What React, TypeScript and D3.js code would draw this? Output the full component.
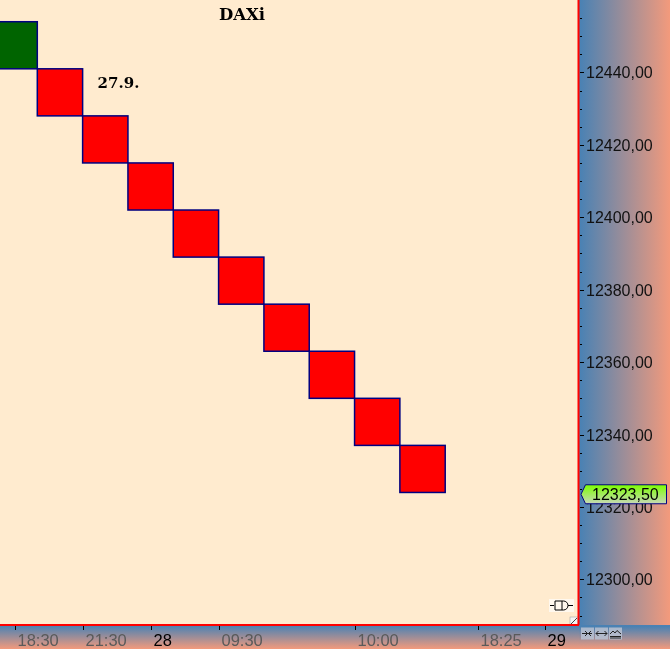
import React from "react";
import * as d3 from "d3";

// ---- data ----
const title = "DAXi";
const dateNote = "27.9.";
const boxSize = 13;
const boxHighs = [12454, 12441, 12428, 12415, 12402, 12389, 12376, 12363, 12350, 12337];
const boxDirections = ["up", "down", "down", "down", "down", "down", "down", "down", "down", "down"];
const lastPrice = 12323.5;
const priceTicks = d3.range(12290, 12460, 5);
const timeTickLabels = ["18:30", "21:30", "28", "09:30", "10:00", "18:25", "29"];
const timeTickColumns = [0.5, 2, 3.5, 5, 8, 10.73, 12.21];
const timeTickIsDay = [false, false, true, false, false, false, true];

const W = 670;
const H = 649;
const plotW = 578;
const plotH = 625;

const fmt = (v: number) => d3.format(".2f")(v).replace(".", ",");

export default function App() {
  const x = d3.scaleLinear().domain([0.177, 12.93]).range([0, plotW]);
  const y = d3.scaleLinear().domain([12287.4, 12460.0]).range([plotH, 0]);
  const colW = x(1) - x(0);
  const axisFont = "'Liberation Sans', Arial, sans-serif";
  const serif = "'DejaVu Serif', serif";
  const py = y(lastPrice);

  return (
    <div style={{ position: "fixed", left: 0, top: 0, width: W, height: H }}>
      <svg width={W} height={H} style={{ display: "block" }}>
        <defs>
          <linearGradient id="gRight" x1="0" y1="0" x2="1" y2="0">
            <stop offset="0" stopColor="#4681b5" />
            <stop offset="1" stopColor="#f39a7c" />
          </linearGradient>
          <linearGradient id="gBottom" x1="0" y1="0" x2="0" y2="1">
            <stop offset="0" stopColor="#4681b5" />
            <stop offset="1" stopColor="#f39a7c" />
          </linearGradient>
          <linearGradient id="gPrice" x1="0" y1="0" x2="0" y2="1">
            <stop offset="0" stopColor="#7cff00" />
            <stop offset="1" stopColor="#c8d8b8" />
          </linearGradient>
          <clipPath id="plotClip">
            <rect x={0} y={0} width={plotW} height={plotH} />
          </clipPath>
        </defs>

        {/* plot background */}
        <rect x={0} y={0} width={plotW} height={plotH} fill="#ffebcf" />

        {/* renko boxes */}
        <g clipPath="url(#plotClip)">
          {boxHighs.map((hi, i) => (
            <rect
              key={i}
              x={x(i)}
              y={y(hi)}
              width={colW}
              height={y(hi - boxSize) - y(hi)}
              fill={boxDirections[i] === "up" ? "#006400" : "#ff0000"}
              stroke="#000080"
              strokeWidth={1.5}
            />
          ))}
        </g>

        {/* title and date note */}
        <text x={242} y={20} textAnchor="middle" fontFamily={serif} fontWeight="bold" fontSize={16.5} fill="#000">
          {title}
        </text>
        <text x={x(2) + 15} y={y(boxHighs[1]) + 19.5} fontFamily={serif} fontWeight="bold" fontSize={15} fill="#000">
          {dateNote}
        </text>

        {/* small connector icon bottom right */}
        <g>
          <rect x={549} y={599} width={25} height={13} fill="#fff8ee" />
          <path
            d="M550,605.5 H554 M558,601 H555 V610 H558 M558,601 H562 M558,610 H562 M562,601 H563.5 A4.5,4.5 0 0 1 563.5,610 H562 Z M568,605.5 H573"
            fill="none"
            stroke="#000"
            strokeWidth={1}
          />
          <rect x={570} y={617} width={8} height={8} fill="#f4f4f4" stroke="#999" strokeWidth={0.5} />
          <path d="M571,624 L577,618" stroke="#444" strokeWidth={1} />
        </g>

        {/* right axis */}
        <rect x={plotW} y={0} width={W - plotW} height={plotH} fill="url(#gRight)" />
        <line x1={plotW + 0.5} y1={0} x2={plotW + 0.5} y2={plotH} stroke="#ff0000" strokeWidth={2} />
        {priceTicks.map((t) => {
          const major = t % 20 === 0;
          const ty = Math.round(y(t)) + 0.5;
          return (
            <g key={t}>
              <line x1={580} x2={major ? 584 : 582} y1={ty} y2={ty} stroke="#000" strokeWidth={1} />
              {major && (
                <text x={586} y={ty} dy="0.36em" fontFamily={axisFont} fontSize={16} fill="#111">
                  {fmt(t)}
                </text>
              )}
            </g>
          );
        })}

        {/* last price label */}
        <g>
          <path
            d={`M581,${py} L585.5,${py - 9.5} H666.5 V${py + 9.5} H585.5 Z`}
            fill="url(#gPrice)"
            stroke="#000080"
            strokeWidth={1}
          />
          <text x={592} y={py} dy="0.36em" fontFamily={axisFont} fontSize={16} fill="#000">
            {fmt(lastPrice)}
          </text>
        </g>

        {/* bottom axis */}
        <rect x={0} y={plotH} width={W} height={H - plotH} fill="url(#gBottom)" />
        <line x1={0} y1={plotH} x2={plotW + 1} y2={plotH} stroke="#ff0000" strokeWidth={2} />
        {timeTickLabels.map((lab, i) => {
          const tx = Math.round(x(timeTickColumns[i])) + 0.5;
          return (
            <g key={lab}>
              <line x1={tx} x2={tx} y1={626} y2={630} stroke="#000" strokeWidth={1} />
              <text
                x={tx + 2}
                y={645.5}
                fontFamily={axisFont}
                fontSize={16.5}
                fill={timeTickIsDay[i] ? "#000" : "#5a5a5a"}
              >
                {lab}
              </text>
            </g>
          );
        })}

        {/* corner buttons */}
        <rect x={plotW + 1} y={plotH + 1} width={W - plotW - 1} height={H - plotH - 1} fill="url(#gBottom)" />
        {[581, 595, 609].map((bx, i) => (
          <g key={bx}>
            <rect x={bx} y={627.5} width={13} height={12} fill="#b9c2d2" opacity={0.85} />
            {i === 0 && (
              <path d="M582,633.5 H592 M585,631 L587.5,633.5 L585,636 M591,631 L588.5,633.5 L591,636" fill="none" stroke="#222" strokeWidth={1} />
            )}
            {i === 1 && (
              <path d="M596,633.5 H607 M598.5,631 L596,633.5 L598.5,636 M604.5,631 L607,633.5 L604.5,636" fill="none" stroke="#222" strokeWidth={1} />
            )}
            {i === 2 && (
              <path d="M610,634 L613,631 L615,633 L617,630.5 L621,634 M610,636.5 H621 M610,638 H621" fill="none" stroke="#222" strokeWidth={1} />
            )}
          </g>
        ))}
      </svg>
    </div>
  );
}
